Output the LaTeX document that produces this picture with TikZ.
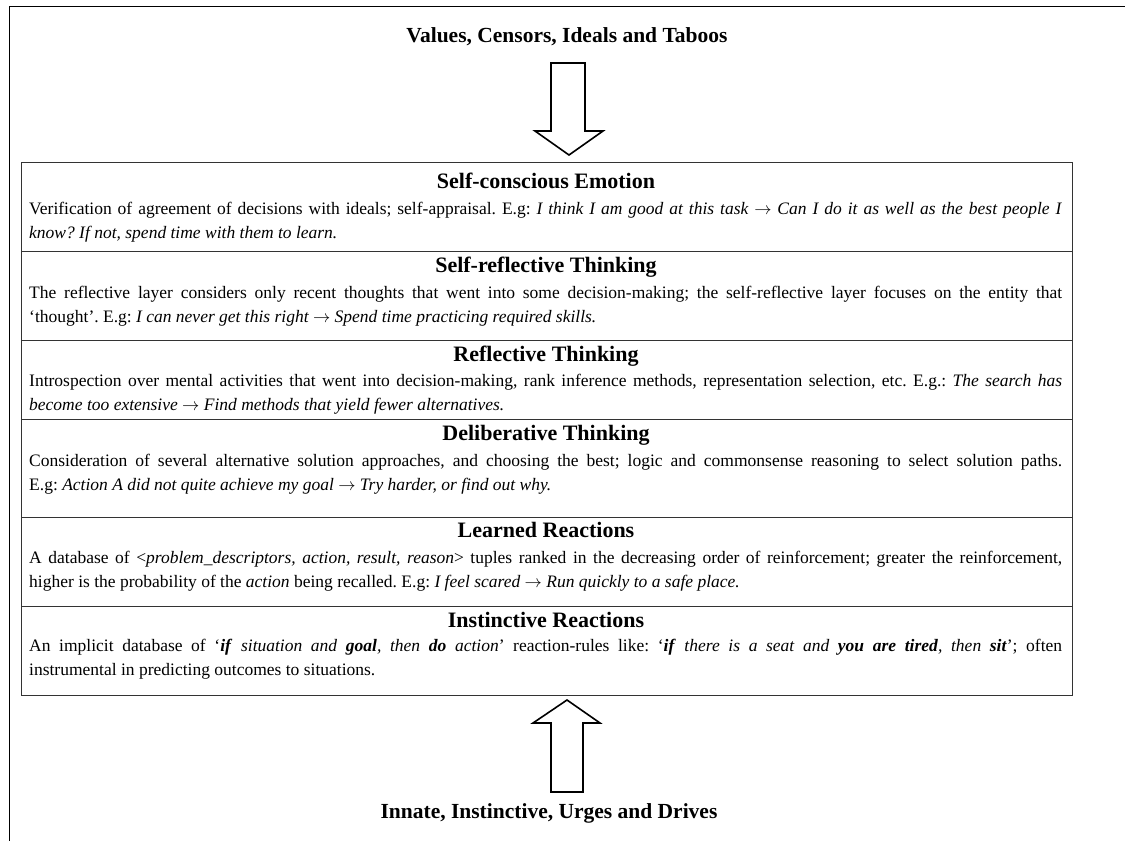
\documentclass[tikz,border=0pt]{standalone}
\usepackage{fontspec}
\setmainfont{Liberation Serif}
\usetikzlibrary{positioning}
\frenchspacing

\newcommand{\lto}{\ensuremath{\rightarrow}}

\tikzset{
	layerbox/.style={draw=black!80, line width=1pt},
	layerhead/.style={font=\fontsize{22}{24}\selectfont\bfseries, anchor=base, inner sep=0pt},
	layertext/.style={font=\fontsize{17.5}{24}\selectfont, text width=1033pt, align=justify, inner sep=0pt, anchor=base west},
	endtitle/.style={font=\fontsize{21.5}{24}\selectfont\bfseries, anchor=base, inner sep=0pt},
	blockarrow/.style={draw, line width=1.6pt, fill=white, line join=miter},
}

\begin{document}
\begin{tikzpicture}[x=1pt,y=-1pt]
		\useasboundingbox (0,0) rectangle (1125,841);
		% Rahmen
		\draw [line width=1pt] (9,841) -- (9,6) -- (1125,6);
		
		% Titel oben
		\node [endtitle] (values) at (567,42) {Values, Censors, Ideals and Taboos};
		\draw [blockarrow] (551,63) -- (585,63) -- (585,131) -- (603,131) -- (569,155) -- (535,131) -- (551,131) -- cycle;
		
		% Self-conscious Emotion
		\draw [layerbox] (21,162) rectangle (1072,251);
		\node [layerhead] (sce) at (546,188) {Self-conscious Emotion};
		\node [layertext] (sce-text) at (29,214) {Verification of agreement of decisions with ideals; self-appraisal. E.g: \textit{I think I am good at this task \lto{} Can I do it as well as the best people I}\linebreak \textit{know? If not, spend time with them to learn.}};
		
		% Self-reflective Thinking
		\draw [layerbox] (21,251) rectangle (1072,340);
		\node [layerhead] (srt) at (546,272) {Self-reflective Thinking};
		\node [layertext] (srt-text) at (29,298) {The reflective layer considers only recent thoughts that went into some decision-making; the self-reflective layer focuses on the entity that\linebreak ‘thought’. E.g: \textit{I can never get this right \lto{} Spend time practicing required skills.}};
		
		% Reflective Thinking
		\draw [layerbox] (21,340) rectangle (1072,419);
		\node [layerhead] (rt) at (546,361) {Reflective Thinking};
		\node [layertext] (rt-text) at (29,386) {Introspection over mental activities that went into decision-making, rank inference methods, representation selection, etc. E.g.: \textit{The search has}\linebreak \textit{become too extensive \lto{} Find methods that yield fewer alternatives.}};
		
		% Deliberative Thinking
		\draw [layerbox] (21,419) rectangle (1072,517);
		\node [layerhead] (dt) at (546,440) {Deliberative Thinking};
		\node [layertext] (dt-text) at (29,466) {Consideration of several alternative solution approaches, and choosing the best; logic and commonsense reasoning to select solution paths.\linebreak E.g: \textit{Action A did not quite achieve my goal \lto{} Try harder, or find out why.}};
		
		% Learned Reactions
		\draw [layerbox] (21,517) rectangle (1072,606);
		\node [layerhead] (lr) at (546,537) {Learned Reactions};
		\node [layertext] (lr-text) at (29,563) {A database of <\textit{problem\_descriptors, action, result, reason}> tuples ranked in the decreasing order of reinforcement; greater the reinforcement,\linebreak higher is the probability of the \textit{action} being recalled. E.g: \textit{I feel scared \lto{} Run quickly to a safe place.}};
		
		% Instinctive Reactions
		\draw [layerbox] (21,606) rectangle (1072,695);
		\node [layerhead] (ir) at (546,627) {Instinctive Reactions};
		\node [layertext] (ir-text) at (29,651) {An implicit database of ‘\textbf{\textit{if}} \textit{situation and} \textbf{\textit{goal}}\textit{, then} \textbf{\textit{do}} \textit{action}’ reaction-rules like: ‘\textbf{\textit{if}} \textit{there is a seat and} \textbf{\textit{you are tired}}\textit{, then} \textbf{\textit{sit}}’; often\linebreak instrumental in predicting outcomes to situations.};
		
		% Titel unten
		\draw [blockarrow] (551,792) -- (583,792) -- (583,723) -- (600,723) -- (567,700) -- (533,723) -- (551,723) -- cycle;
		\node [endtitle] (drives) at (549,818) {Innate, Instinctive, Urges and Drives};
\end{tikzpicture}
\end{document}
